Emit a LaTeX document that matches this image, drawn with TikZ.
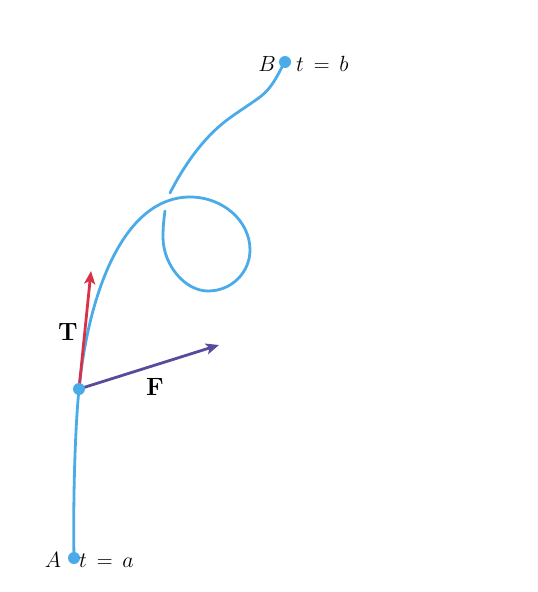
\RequirePackage{fix-cm}
\documentclass[tikz,border=0pt]{standalone}
\usetikzlibrary{arrows.meta}
\definecolor{curveblue}{HTML}{4AABE8}
\definecolor{tred}{HTML}{DA3048}
\definecolor{fpurple}{HTML}{5A4A9E}
\begin{document}
\begin{tikzpicture}[x=1pt,y=-1pt,
  curve/.style={curveblue,line width=2.8pt,line cap=round},
  vec/.style={line width=2.8pt,-{Stealth[length=13pt,width=11pt,inset=3pt]}},
  dot/.style={circle,fill=curveblue,inner sep=0pt,minimum size=12pt},
  lab/.style={font=\fontsize{22}{26}\selectfont,inner sep=0pt},
  blab/.style={font=\fontsize{25}{30}\selectfont,inner sep=0pt}]
\useasboundingbox (0,0) rectangle (538,592);
\coordinate (A) at (74,558);
\coordinate (P) at (79,389);
\coordinate (B) at (285,62);
\coordinate (Ttip) at (91,271);
\coordinate (Ftip) at (219,345);
\coordinate (Q) at (190,197);
\coordinate (R) at (250,250);
\coordinate (S) at (208,291);
\coordinate (L) at (163,237);
\coordinate (E) at (165,211);
\coordinate (U0) at (170,193);
\coordinate (U2) at (227,120);
\coordinate (U3) at (260,97);
\coordinate (U4) at (284,63);
\draw[curve] (A) .. controls (73,500) and (75,429) .. (P)
  .. controls (89,289) and (125,197) .. (Q)
  .. controls (223,197) and (250,221) .. (R)
  .. controls (250,272) and (232,291) .. (S)
  .. controls (185,291) and (163,265) .. (L)
  .. controls (163,226) and (164,218) .. (E);
\draw[curve] (U0) .. controls (183.5,166.3) and (203,138) .. (U2)
  .. controls (237.4,112.2) and (249.5,104.7) .. (U3)
  .. controls (271.3,88.7) and (277.7,75.5) .. (U4);
\draw[vec,tred] (P) -- (Ttip);
\draw[vec,fpurple] (P) -- (Ftip);
\node[dot] (a) at (A) {};
\node[dot] (p) at (P) {};
\node[dot] (b) at (B) {};
\node[blab] (Tl) at (68,332) {$\mathbf{T}$};
\node[blab] (Fl) at (155,387) {$\mathbf{F}$};
\node[lab,anchor=base] (Bl) at (267,71) {$B$};
\node[lab,anchor=base west] (tb) at (296,71) {$t\,=\,b$};
\node[lab,anchor=base] (Al) at (53,567) {$A$};
\node[lab,anchor=base west] (ta) at (79,567) {$t\,=\,a$};
\end{tikzpicture}
\end{document}
